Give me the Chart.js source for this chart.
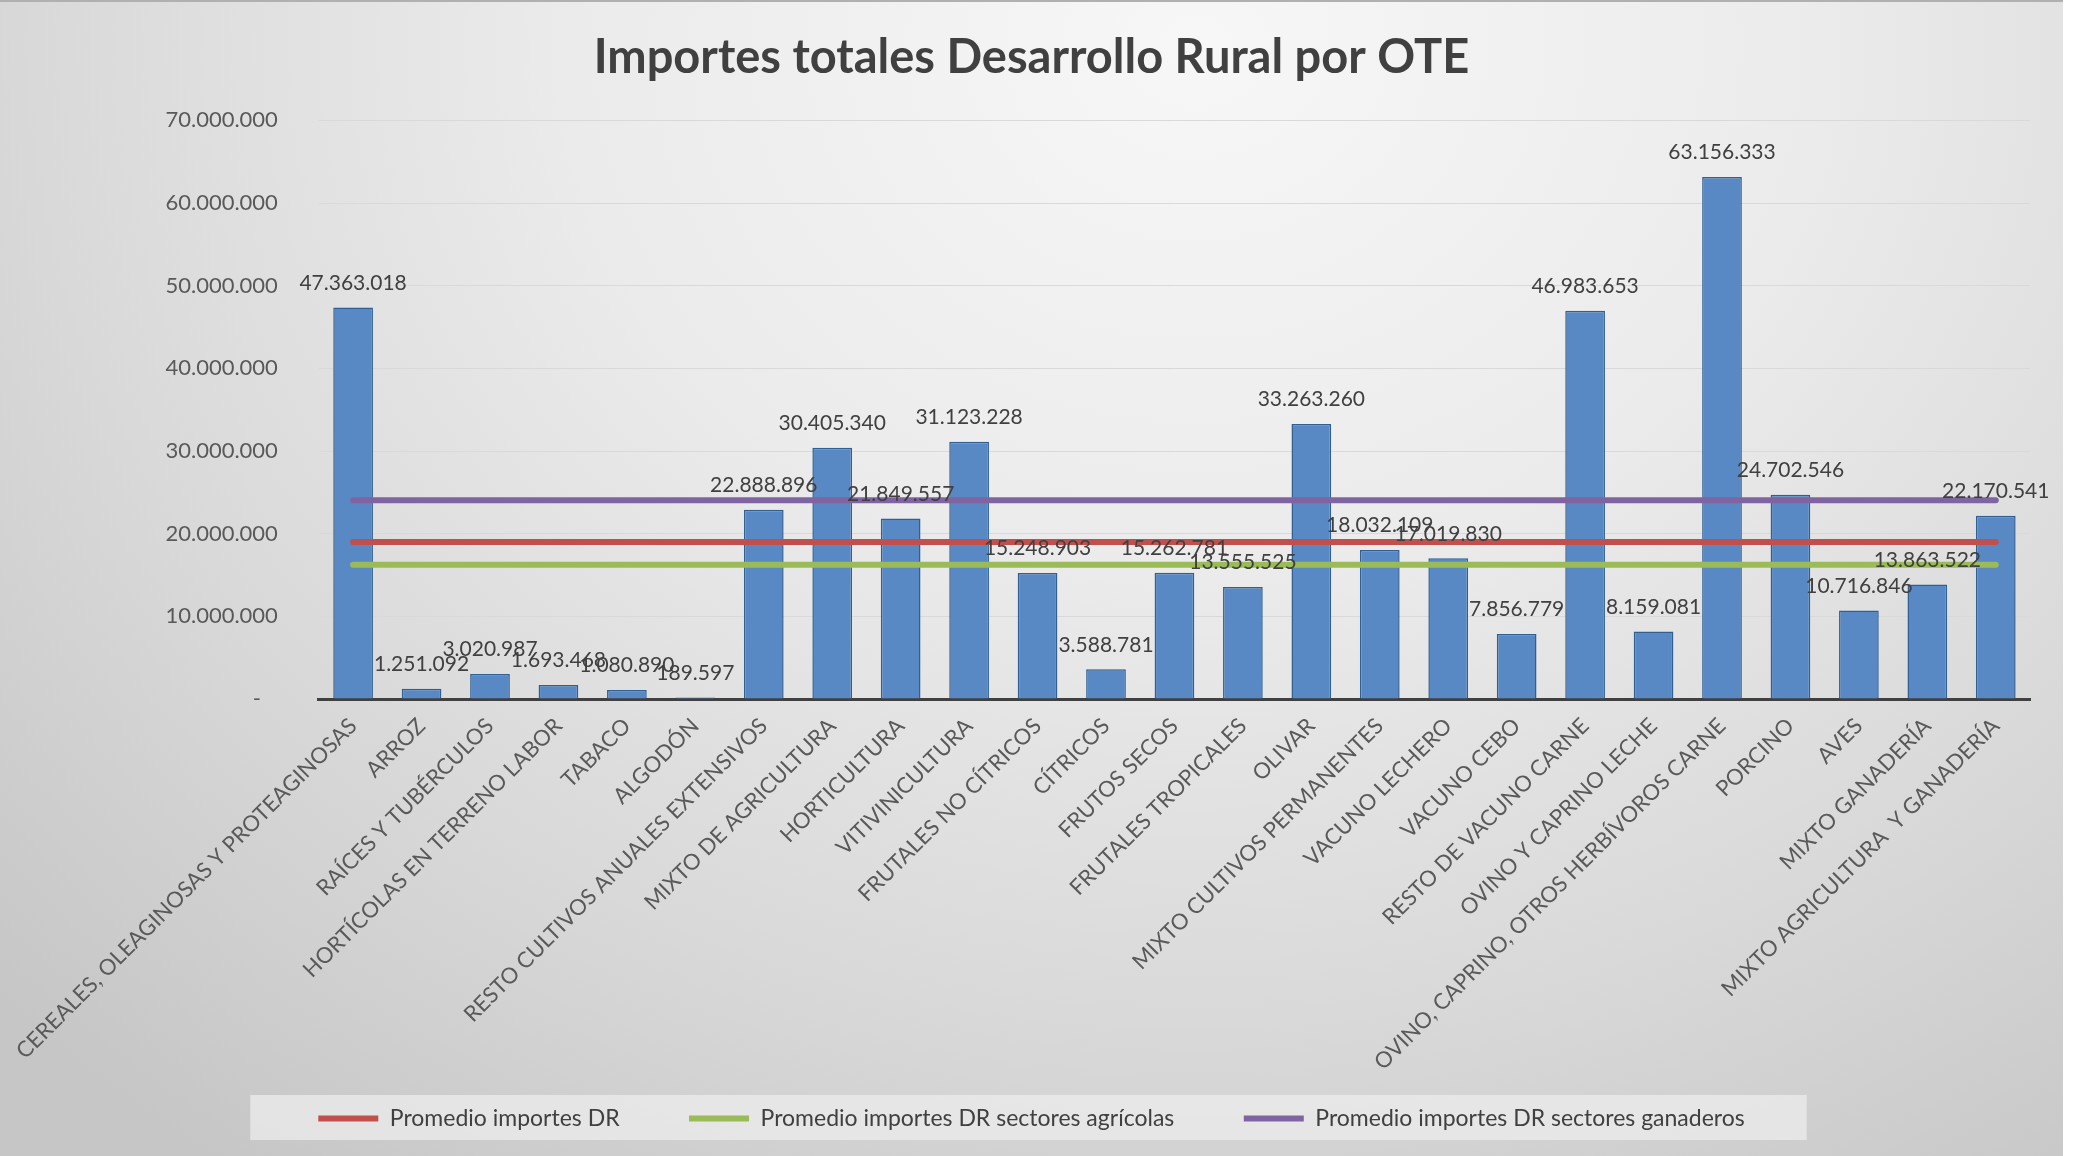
<!DOCTYPE html>
<html lang="es">
<head>
<meta charset="utf-8">
<title>Importes totales Desarrollo Rural por OTE</title>
<script src="https://cdn.jsdelivr.net/npm/chart.js@4.4.1/dist/chart.umd.min.js"></script>
<style>
    html, body { margin: 0; padding: 0; background: #ffffff; }
    #wrap {
        position: relative;
        width: 2063px;
        height: 1156px;
        background: radial-gradient(ellipse 80% 120% at 58% 4%, #f7f7f7 0%, #ebebeb 38%, #d9d9d9 70%, #c6c6c6 100%);
        box-shadow: inset 0 2px 0 #b0b0b0;
    }
    canvas { display: block; }
</style>
</head>
<body>
<div id="wrap"><canvas id="oteChart" width="2063" height="1156"></canvas></div>
<script>
// --- DATOS ---
const categories = [
    'CEREALES, OLEAGINOSAS Y PROTEAGINOSAS', 'ARROZ', 'RAÍCES Y TUBÉRCULOS',
    'HORTÍCOLAS EN TERRENO LABOR', 'TABACO', 'ALGODÓN', 'RESTO CULTIVOS ANUALES EXTENSIVOS',
    'MIXTO DE AGRICULTURA', 'HORTICULTURA', 'VITIVINICULTURA', 'FRUTALES NO CÍTRICOS',
    'CÍTRICOS', 'FRUTOS SECOS', 'FRUTALES TROPICALES', 'OLIVAR', 'MIXTO CULTIVOS PERMANENTES',
    'VACUNO LECHERO', 'VACUNO CEBO', 'RESTO DE VACUNO CARNE', 'OVINO Y CAPRINO LECHE',
    'OVINO, CAPRINO, OTROS HERBÍVOROS CARNE', 'PORCINO', 'AVES', 'MIXTO GANADERÍA',
    'MIXTO AGRICULTURA  Y GANADERÍA'
];
const importes = [
    47363018, 1251092, 3020987, 1693468, 1080890, 189597, 22888896,
    30405340, 21849557, 31123228, 15248903, 3588781, 15262781, 13555525,
    33263260, 18032109, 17019830, 7856779, 46983653, 8159081, 63156333,
    24702546, 10716846, 13863522, 22170541
];
// Promedios (líneas horizontales)
const promedioDR = 18980000;
const promedioAgricolas = 16240000;
const promedioGanaderos = 24060000;
const yTicks = [0, 10000000, 20000000, 30000000, 40000000, 50000000, 60000000, 70000000];

// Formato con punto como separador de miles
const formatoES = (n) => String(Math.round(n)).replace(/\B(?=(\d{3})+(?!\d))/g, '.');

const FONT = 'Lato';
const firstCat = categories[0];
const lastCat = categories[categories.length - 1];

// Línea horizontal desde el primer hasta el último sector
const lineaPromedio = (label, value, color) => ({
    type: 'line',
    label: label,
    data: [{ x: firstCat, y: value }, { x: lastCat, y: value }],
    borderColor: color,
    backgroundColor: color,
    borderWidth: 6,
    borderCapStyle: 'round',
    pointRadius: 0,
    pointStyle: 'line',
    order: 1
});

// --- PLUGIN: etiquetas de valor sobre las barras ---
const etiquetasBarras = {
    id: 'etiquetasBarras',
    afterDatasetsDraw(chart) {
        const ctx = chart.ctx;
        const meta = chart.getDatasetMeta(0);
        ctx.save();
        ctx.font = '21px ' + FONT;
        ctx.fillStyle = '#404040';
        ctx.textAlign = 'center';
        ctx.textBaseline = 'bottom';
        meta.data.forEach((bar, i) => {
            ctx.fillText(formatoES(importes[i]), bar.x, bar.y - 14);
        });
        ctx.restore();
    }
};

// --- PLUGIN: fondo claro detrás de la leyenda ---
const fondoLeyenda = {
    id: 'fondoLeyenda',
    beforeDraw(chart) {
        const lg = chart.legend;
        if (!lg || !lg.legendHitBoxes || !lg.legendHitBoxes.length) return;
        const boxes = lg.legendHitBoxes;
        const left = Math.min(...boxes.map(b => b.left)) - 68;
        const right = Math.max(...boxes.map(b => b.left + b.width)) + 62;
        const ctx = chart.ctx;
        ctx.save();
        ctx.fillStyle = 'rgba(236,236,236,0.75)';
        ctx.fillRect(left, lg.top, right - left, lg.height);
        ctx.restore();
    }
};

new Chart(document.getElementById('oteChart'), {
    data: {
        labels: categories,
        datasets: [
            {
                type: 'bar',
                label: 'Importes DR',
                data: importes,
                backgroundColor: '#5889c4',
                borderColor: '#2f5f93',
                borderWidth: 1.5,
                borderSkipped: 'bottom',
                categoryPercentage: 1,
                barPercentage: 0.58,
                order: 2
            },
            lineaPromedio('Promedio importes DR', promedioDR, '#c0504d'),
            lineaPromedio('Promedio importes DR sectores agrícolas', promedioAgricolas, '#9bbb59'),
            lineaPromedio('Promedio importes DR sectores ganaderos', promedioGanaderos, '#8064a2')
        ]
    },
    options: {
        responsive: false,
        animation: false,
        layout: { padding: { left: 33, right: 33, top: 0, bottom: 16 } },
        plugins: {
            tooltip: { enabled: false },
            title: {
                display: true,
                text: 'Importes totales Desarrollo Rural por OTE',
                color: '#404040',
                font: { family: FONT, size: 47, weight: 'bold' },
                padding: { top: 30, bottom: 34 }
            },
            legend: {
                position: 'bottom',
                labels: {
                    usePointStyle: true,
                    pointStyle: 'line',
                    pointStyleWidth: 60,
                    padding: 12,
                    color: '#404040',
                    font: { family: FONT, size: 23 },
                    filter: (item) => item.datasetIndex > 0,
                    generateLabels(chart) {
                        const items = Chart.defaults.plugins.legend.labels.generateLabels(chart);
                        // espacio extra después de las dos primeras líneas de la leyenda
                        items.forEach((it) => {
                            if (it.datasetIndex === 1 || it.datasetIndex === 2) {
                                it.text += '\u2002\u2002\u2002\u2002\u2002';
                            }
                        });
                        return items;
                    }
                }
            }
        },
        scales: {
            x: {
                offset: true,
                grid: { display: false, drawTicks: false },
                border: { display: true, color: '#404040', width: 3 },
                ticks: {
                    autoSkip: false,
                    maxRotation: 45,
                    minRotation: 45,
                    padding: 14,
                    color: '#595959',
                    font: { family: FONT, size: 22 }
                },
                afterFit(scale) { scale.height = 396; }
            },
            y: {
                min: 0,
                max: 70000000,
                grid: { color: '#d9d9d9', lineWidth: 1, drawTicks: false },
                border: { display: false },
                ticks: {
                    padding: 41,
                    color: '#595959',
                    font: { family: FONT, size: 22 },
                    callback: (v) => (v === 0 ? '-   ' : formatoES(v))
                },
                afterBuildTicks(scale) { scale.ticks = yTicks.map(v => ({ value: v })); },
                afterFit(scale) { scale.width = 284; }
            }
        }
    },
    plugins: [fondoLeyenda, etiquetasBarras]
});
</script>
</body>
</html>
